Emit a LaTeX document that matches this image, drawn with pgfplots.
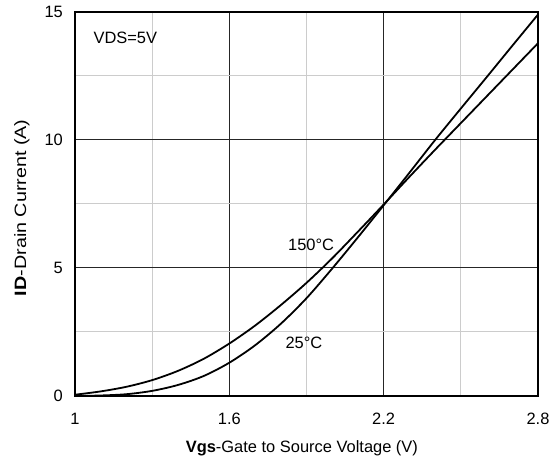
\documentclass[border=0pt]{standalone}
\usepackage{fontspec}
\setmainfont{Liberation Sans}
\usepackage{pgfplots}
\pgfplotsset{compat=1.18}

% ID vs Vgs at two junction temperatures
\pgfplotstableread{
vgs   id
1.0   0.00
1.1   0.02
1.2   0.07
1.3   0.20
1.4   0.43
1.5   0.78
1.6   1.30
1.7   1.98
1.8   2.82
1.9   3.82
2.0   4.98
2.1   6.20
2.2   7.45
2.3   8.72
2.4   10.00
2.5   11.23
2.6   12.45
2.7   13.68
2.8   14.90
}\tcold

\pgfplotstableread{
vgs   id
1.0   0.05
1.1   0.18
1.2   0.36
1.3   0.62
1.4   0.98
1.5   1.45
1.6   2.05
1.7   2.75
1.8   3.55
1.9   4.42
2.0   5.38
2.1   6.42
2.2   7.48
2.3   8.56
2.4   9.62
2.5   10.66
2.6   11.70
2.7   12.74
2.8   13.78
}\thot

\begin{document}
\fontsize{16.5}{19}\selectfont
\begin{tikzpicture}[x=1bp,y=1bp]
\path[use as bounding box] (-75,-65) rectangle (482,396);
\begin{axis}[
  at={(0,0)}, anchor=south west,
  scale only axis, width=463bp, height=384bp,
  xmin=1, xmax=2.8, ymin=0, ymax=15,
  xtick={1,1.6,2.2,2.8}, xticklabels={1,1.6,2.2,2.8},
  ytick={0,5,10,15}, yticklabels={0,5,10,15},
  minor xtick={1.3,1.9,2.5}, minor ytick={2.5,7.5,12.5},
  major tick length=0pt, minor tick length=0pt,
  grid=both,
  major grid style={black!85, line width=1bp},
  minor grid style={black!20, line width=1bp},
  axis line style={black, line width=1.8bp},
  xticklabel style={inner sep=0pt, anchor=north, yshift=-17bp},
  yticklabel style={inner sep=0pt, anchor=east, xshift=-12bp},
  xlabel={\textbf{Vgs}-Gate to Source Voltage (V)},
  ylabel={\textbf{ID}-Drain Current (A)},
  xlabel style={at={(axis description cs:0.490,-0.1354)}, anchor=center, inner sep=0pt},
  ylabel style={at={(axis description cs:-0.1145,0.49)}, anchor=center, inner sep=0pt, xscale=1.2},
  clip=false,
]
\addplot[black, line width=1.8bp, smooth] table[x=vgs, y=id] {\tcold};
\addplot[black, line width=1.8bp, smooth] table[x=vgs, y=id] {\thot};
\node[anchor=west] at (axis cs:1.05,13.98) {VDS=5V};
\node at (axis cs:1.918,5.9) {150°C};
\node at (axis cs:1.89,2.07) {25°C};
\end{axis}
\end{tikzpicture}
\end{document}
